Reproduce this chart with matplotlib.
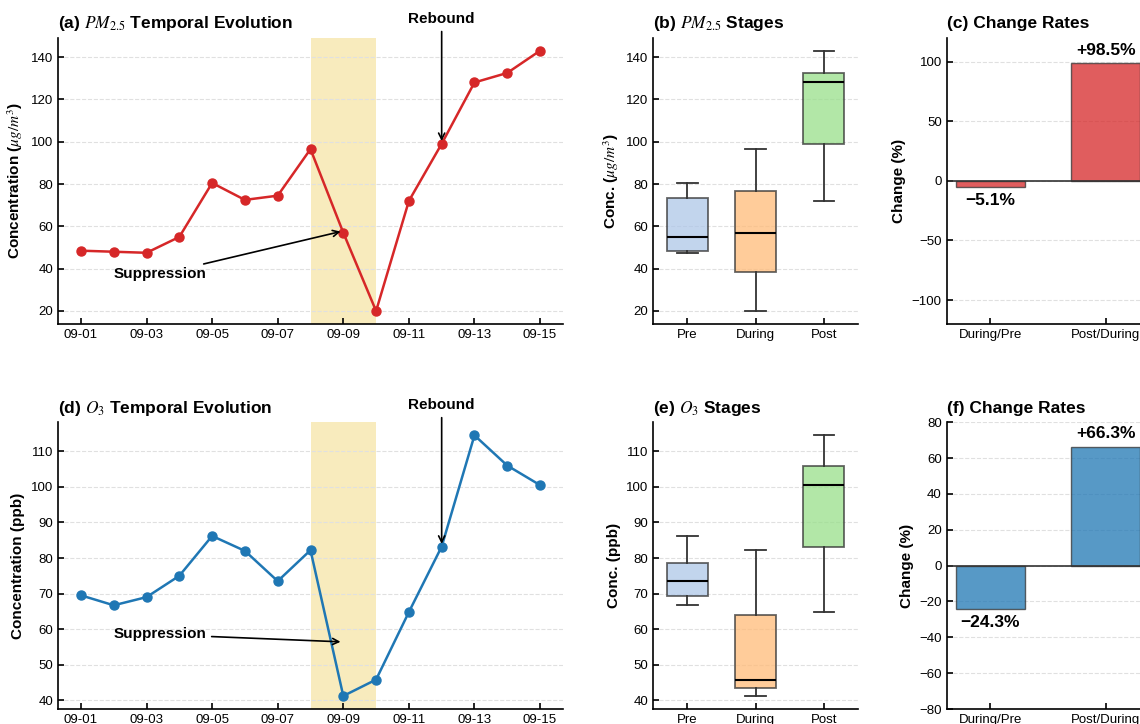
import numpy as np
import matplotlib
import matplotlib.pyplot as plt

matplotlib.use('Agg')

plt.rcParams['font.family'] = ['Liberation Sans', 'DejaVu Sans']
plt.rcParams['mathtext.fontset'] = 'stix'

# daily series, 09-01 .. 09-15
days = ['09-01', '09-02', '09-03', '09-04', '09-05', '09-06', '09-07', '09-08',
        '09-09', '09-10', '09-11', '09-12', '09-13', '09-14', '09-15']
pm25 = [48.5, 48.0, 47.5, 55.0, 80.5, 72.5, 74.5, 96.5, 57.0, 20.0, 72.0, 99.0, 128.0, 132.5, 143.0]
o3 = [69.5, 66.7, 69.0, 75.0, 86.2, 82.0, 73.5, 82.2, 41.2, 45.8, 64.8, 83.2, 114.5, 106.0, 100.5]

# stage split (index ranges into the daily series)
stage_names = ['Pre', 'During', 'Post']
stage_slices = [(0, 7), (7, 10), (10, 15)]

rate_names = ['During/Pre', 'Post/During']
pm25_rates = [-5.1, 98.5]
o3_rates = [-24.3, 66.3]

RED = '#d62728'
BLUE = '#1f77b4'
BOX_COLORS = ['#aec7e8', '#ffbb78', '#98df8a']
SPAN_COLOR = '#ebc844'

W, H = 1140, 724
fig = plt.figure(figsize=(W / 100, H / 100), dpi=100)


def px_axes(x0, y0, x1, y1):
    return fig.add_axes([x0 / W, 1 - y1 / H, (x1 - x0) / W, (y1 - y0) / H])


def style(ax):
    for s in ['top', 'right']:
        ax.spines[s].set_visible(False)
    for s in ['left', 'bottom']:
        ax.spines[s].set_linewidth(1.2)
    ax.tick_params(direction='in', length=4, width=1.2, labelsize=9.5)
    ax.yaxis.grid(True, linestyle='--', color='#e0e0e0', linewidth=0.8)
    ax.set_axisbelow(True)


def line_panel(ax, values, color, title, ylabel, supp_text_y, reb_text_y):
    x = np.arange(1, len(values) + 1)
    ax.axvspan(8, 10, color=SPAN_COLOR, alpha=0.35, lw=0, zorder=0)
    ax.plot(x, values, '-o', color=color, lw=1.8, ms=6.5, zorder=3)
    ax.set_xticks(x[::2])
    ax.set_xticklabels(days[::2])
    style(ax)
    ax.set_title(title, loc='left', fontsize=12.5, fontweight='bold', pad=7)
    ax.set_ylabel(ylabel, fontsize=11, fontweight='bold')
    during = values[stage_slices[1][0]:stage_slices[1][1]]
    ax.annotate('Suppression', xy=(9, np.mean(during)), xytext=(3.4, supp_text_y),
                ha='center', va='center', fontsize=11, fontweight='bold',
                arrowprops=dict(arrowstyle='->', color='black', lw=1.2))
    ax.annotate('Rebound', xy=(12, values[11]), xytext=(12, reb_text_y),
                ha='center', va='center', fontsize=11, fontweight='bold',
                arrowprops=dict(arrowstyle='->', color='black', lw=1.2))


def box_panel(ax, values, title, ylabel):
    groups = [values[a:b] for a, b in stage_slices]
    bp = ax.boxplot(groups, widths=0.6, patch_artist=True, showfliers=False,
                    medianprops=dict(color='black', lw=1.5),
                    whiskerprops=dict(color='#333333', lw=1.3),
                    capprops=dict(color='#333333', lw=1.3),
                    boxprops=dict(edgecolor='#333333', lw=1.3))
    for patch, c in zip(bp['boxes'], BOX_COLORS):
        patch.set_facecolor(c)
        patch.set_alpha(0.75)
        patch.set_edgecolor('#333333')
    ax.set_xticks([1, 2, 3])
    ax.set_xticklabels(stage_names)
    style(ax)
    ax.set_title(title, loc='left', fontsize=12.5, fontweight='bold', pad=7)
    ax.set_ylabel(ylabel, fontsize=11, fontweight='bold')


def rate_panel(ax, rates, color, title, lim):
    xs = np.arange(len(rates))
    ax.bar(xs, rates, width=0.6, color=color, alpha=0.75, edgecolor='#333333', lw=1)
    ax.axhline(0, color='#333333', lw=1.2)
    off = 0.02 * 2 * lim
    for xi, r in zip(xs, rates):
        txt = f'+{r:.1f}%' if r > 0 else f'\u2212{abs(r):.1f}%'
        ax.text(xi, r + off if r > 0 else r - off, txt, ha='center',
                va='bottom' if r > 0 else 'top', fontsize=12.5, fontweight='bold')
    ax.set_ylim(-lim, lim)
    ax.set_xticks(xs)
    ax.set_xticklabels(rate_names)
    style(ax)
    ax.set_title(title, loc='left', fontsize=12.5, fontweight='bold', pad=7)
    ax.set_ylabel('Change (%)', fontsize=11, fontweight='bold')


ax_a = px_axes(58, 37.7, 563, 324)
ax_b = px_axes(653.3, 37.7, 858, 324)
ax_c = px_axes(946.7, 37.7, 1149.4, 324)
ax_d = px_axes(58, 422.3, 563, 709)
ax_e = px_axes(653.3, 422.3, 858, 709)
ax_f = px_axes(946.7, 422.3, 1149.4, 709)

line_panel(ax_a, pm25, RED, r'(a) $PM_{2.5}$ Temporal Evolution',
           r'Concentration ($\mu g/m^3$)', 37.3, 158)
line_panel(ax_d, o3, BLUE, r'(d) $O_3$ Temporal Evolution',
           'Concentration (ppb)', 58.5, 123)

box_panel(ax_b, pm25, r'(b) $PM_{2.5}$ Stages', r'Conc. ($\mu g/m^3$)')
box_panel(ax_e, o3, r'(e) $O_3$ Stages', 'Conc. (ppb)')

rate_panel(ax_c, pm25_rates, RED, '(c) Change Rates', 120)
rate_panel(ax_f, o3_rates, BLUE, '(f) Change Rates', 80)

fig.savefig('out.png', dpi=100)
